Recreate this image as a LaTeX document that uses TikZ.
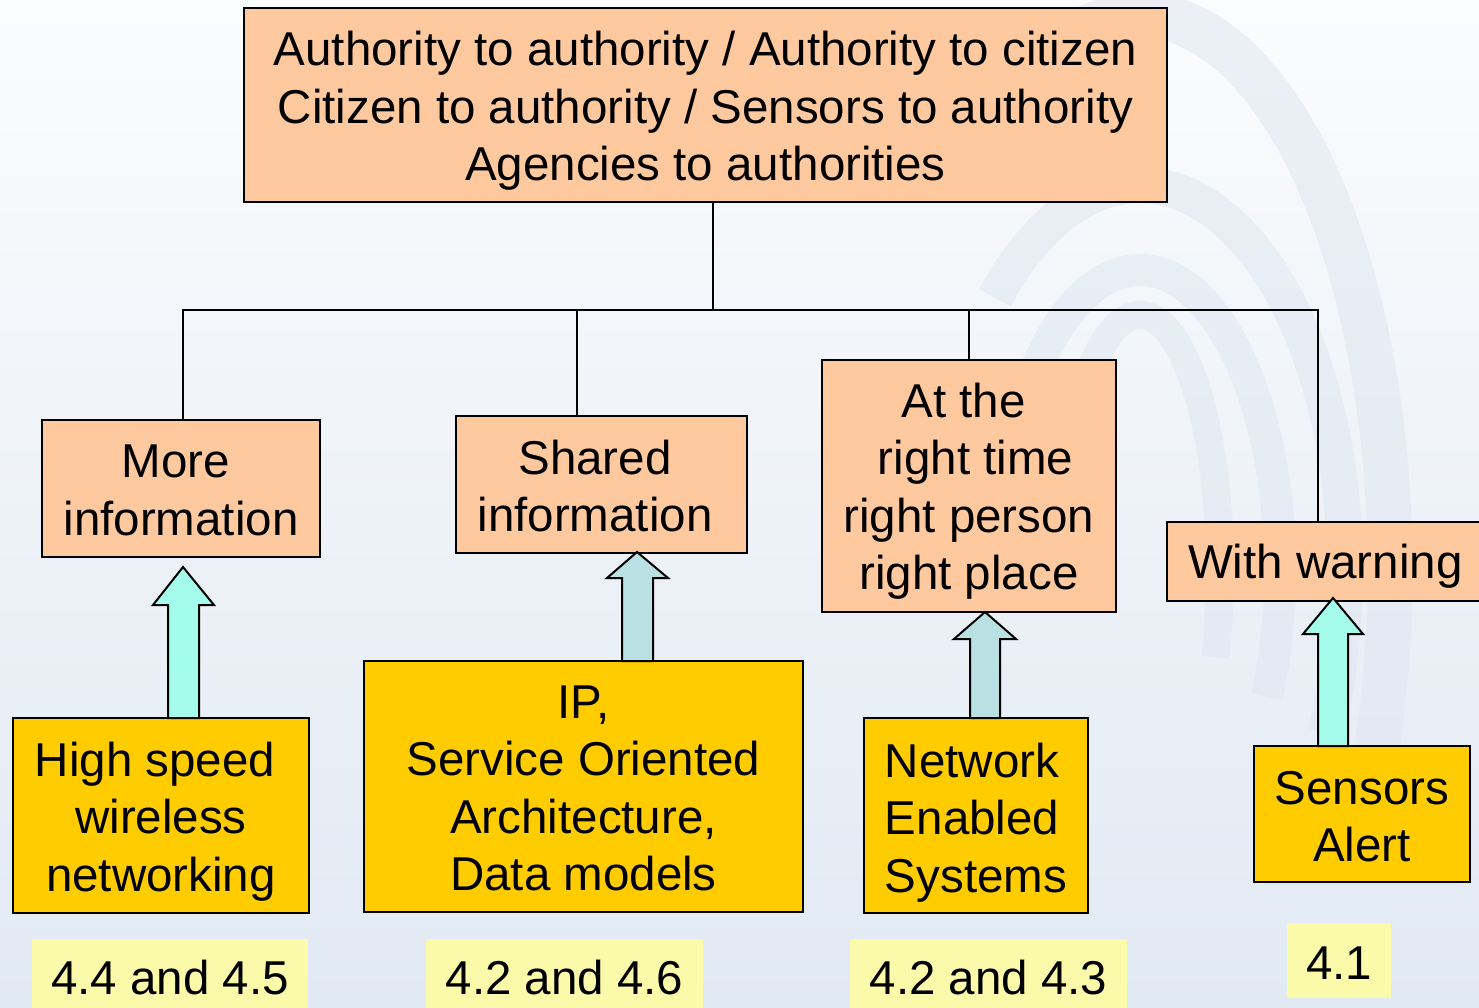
\documentclass[tikz,border=0pt]{standalone}
\usepackage{fontspec}
\setmainfont{Liberation Sans}
\begin{document}
\begin{tikzpicture}[x=1pt,y=-1pt,
  every node/.style={inner sep=0pt, outer sep=0pt, align=center, font=\fontsize{47.5}{57.5}\selectfont},
  peachbox/.style={draw=black, line width=1.6pt, fill={rgb,255:red,255;green,201;blue,160}},
  goldbox/.style={draw=black, line width=1.6pt, fill={rgb,255:red,255;green,204;blue,0}},
  refbox/.style={fill={rgb,255:red,251;green,250;blue,170}},
  treeline/.style={draw=black, line width=1.5pt},
  aquaarrow/.style={draw=black, line width=2pt, line join=miter, fill={rgb,255:red,164;green,253;blue,234}},
  bluearrow/.style={draw=black, line width=2pt, line join=miter, fill={rgb,255:red,185;green,224;blue,227}},
  wmark/.style={draw={rgb,255:red,222;green,230;blue,241}, opacity=0.5}
]
% background
\useasboundingbox (0,0) rectangle (1479,1008);
\shade[top color={rgb,255:red,251;green,252;blue,253}, bottom color={rgb,255:red,225;green,233;blue,243}] (0,0) rectangle (1479,1008);
% faint watermark arcs
\draw[wmark, line width=45pt] (1140,570) ++(25:250 and 555) arc[start angle=25, end angle=-130, x radius=250, y radius=555];
\draw[wmark, line width=36pt] (1140,570) ++(25:205 and 385) arc[start angle=25, end angle=-135, x radius=205, y radius=385];
\draw[wmark, line width=32pt] (1140,570) ++(25:140 and 300) arc[start angle=25, end angle=-140, x radius=140, y radius=300];
\draw[wmark, line width=28pt] (1140,570) ++(20:80 and 255) arc[start angle=20, end angle=-145, x radius=80, y radius=255];

% top box
\node[peachbox, minimum width=923pt, minimum height=194pt] (top) at (705.5,105) {};
\node[yshift=-6pt] (topt) at (top.center)
  {Authority to authority / Authority to citizen\\Citizen to authority / Sensors to authority\\Agencies to authorities};

% second row
\node[peachbox, minimum width=278pt, minimum height=137pt] (more) at (181,488.5) {};
\node[yshift=-2pt] (moret) at (more.center) {\hspace*{-10pt}More\\information};
\node[peachbox, minimum width=291pt, minimum height=137pt] (shared) at (601.5,484.5) {};
\node[yshift=-1.5pt, xshift=-6.5pt] (sharedt) at (shared.center) {Shared\\information};
\node[peachbox, minimum width=294pt, minimum height=252pt] (right) at (969,486) {};
\node[yshift=-5pt] (rightt) at (right.center) {\hspace*{-11pt}At the\\\ right time\\right person\\right place};
\node[peachbox, minimum width=320pt, minimum height=79pt, anchor=west] (warn) at (1167,561.5) {};
\node[yshift=-5pt, anchor=west] (warnt) at (1188,561.5) {With warning};

% tree connectors
\coordinate (j) at (713,310);
\draw[treeline] ([xshift=7.5pt]top.south) -- (j);
\draw[treeline] ([xshift=2pt]more.north) |- (j);
\draw[treeline] (j) -| ([xshift=-9pt]warn.north);
\draw[treeline] ([xshift=-24.5pt]shared.north) -- ([xshift=-24.5pt]shared.north |- j);
\draw[treeline] (right.north) -- (right.north |- j);

% bottom boxes
\node[goldbox, minimum width=296pt, minimum height=195pt] (hs) at (161,815.5) {};
\node[yshift=-6pt] (hst) at (hs.center) {\hspace*{-12pt}High speed\\wireless\\networking};
\node[goldbox, minimum width=439pt, minimum height=251pt] (ip) at (583.5,786.5) {};
\node[yshift=-2pt] (ipt) at (ip.center) {IP,\\Service Oriented\\Architecture,\\Data models};
\node[goldbox, minimum width=224pt, minimum height=195pt] (nes) at (976,815.5) {};
\node[yshift=-7pt, align=left] (nest) at (nes.center) {Network\\Enabled\\Systems};
\node[goldbox, minimum width=216pt, minimum height=136pt] (sens) at (1362,814) {};
\node[yshift=-2.5pt] (senst) at (sens.center) {Sensors\\Alert};

% block arrows (from lower box up to upper box)
\draw[aquaarrow] (183,567) -- (214,605) -- (199,605) -- (199,718) -- (168,718) -- (168,605) -- (153,605) -- cycle;
\draw[bluearrow] (637,552) -- (668,578) -- (653,578) -- (653,661) -- (622,661) -- (622,578) -- (607,578) -- cycle;
\draw[bluearrow] (985,612) -- (1016,639) -- (1000,639) -- (1000,718) -- (970,718) -- (970,639) -- (954,639) -- cycle;
\draw[aquaarrow] (1333,598) -- (1363,634) -- (1348,634) -- (1348,746) -- (1318,746) -- (1318,634) -- (1303,634) -- cycle;

% reference labels
\node[refbox, minimum width=276pt, minimum height=78pt] (r1) at (170,978) {4.4 and 4.5};
\node[refbox, minimum width=277pt, minimum height=78pt] (r2) at (564.5,978) {4.2 and 4.6};
\node[refbox, minimum width=277pt, minimum height=78pt] (r3) at (988.5,978) {4.2 and 4.3};
\node[refbox, minimum width=104pt, minimum height=75pt] (r4) at (1339,960.5) {};
\node[yshift=-3pt] (r4t) at (r4.center) {4.1};
\end{tikzpicture}
\end{document}
